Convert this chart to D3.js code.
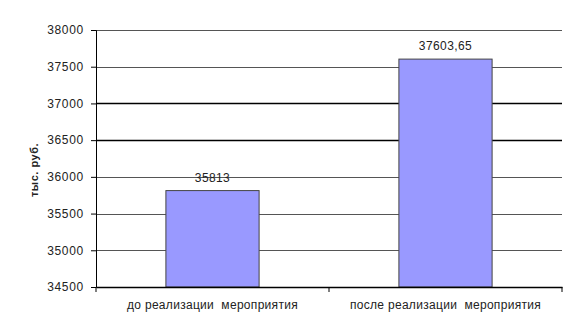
<!DOCTYPE html>
<html>
<head>
<meta charset="utf-8">
<script src="https://cdn.jsdelivr.net/npm/d3@7"></script>
<style>
  body { margin: 0; background: #fff; }
  text { font-family: "Liberation Sans", Arial, sans-serif; fill: #222; white-space: pre; }
</style>
</head>
<body>
<div id="chart"></div>
<script>
// data
const categories = ["до реализации  мероприятия", "после реализации  мероприятия"];
const values = [35813, 37603.65];
const valueLabels = ["35813", "37603,65"];
const yTicks = [34500, 35000, 35500, 36000, 36500, 37000, 37500, 38000];
const yTitle = "тыс. руб.";

const width = 581, height = 335;
const margin = {top: 30, right: 19, bottom: 48, left: 96};

const svg = d3.select("#chart").append("svg")
    .attr("width", width)
    .attr("height", height);

const x = d3.scaleBand()
    .domain(categories)
    .range([margin.left, width - margin.right])
    .paddingInner(0.6)
    .paddingOuter(0.3);

const y = d3.scaleLinear()
    .domain([34500, 38000])
    .range([height - margin.bottom, margin.top]);

// gridlines
svg.append("g")
    .selectAll("line")
    .data(yTicks.slice(1))
    .enter().append("line")
    .attr("x1", margin.left)
    .attr("x2", width - margin.right)
    .attr("y1", d => Math.round(y(d)) + 0.5)
    .attr("y2", d => Math.round(y(d)) + 0.5)
    .attr("stroke", d => (d === 37000 || d === 36500) ? "#000" : "#555")
    .attr("stroke-width", d => (d === 37000 || d === 36500) ? 1.6 : 1);

// bars
svg.selectAll(".bar")
    .data(values)
    .enter().append("rect")
    .attr("class", "bar")
    .attr("x", (d, i) => x(categories[i]))
    .attr("y", d => y(d))
    .attr("width", x.bandwidth())
    .attr("height", d => y(34500) - y(d))
    .attr("fill", "#9999ff")
    .attr("stroke", "#444")
    .attr("stroke-width", 1);

// value labels
svg.selectAll(".vlabel")
    .data(values)
    .enter().append("text")
    .attr("class", "vlabel")
    .attr("x", (d, i) => x(categories[i]) + x.bandwidth() / 2)
    .attr("y", d => y(d) - 9)
    .attr("text-anchor", "middle")
    .attr("font-size", 12)
    .attr("letter-spacing", 0.4)
    .text((d, i) => valueLabels[i]);

// y axis
const yAxis = svg.append("g")
    .attr("transform", `translate(${margin.left},0)`)
    .call(d3.axisLeft(y).tickValues(yTicks).tickSize(5).tickPadding(7).tickFormat(d3.format("d")));
yAxis.selectAll("text").attr("font-size", 12).attr("letter-spacing", 0.7).style("fill", "#222");
yAxis.selectAll("line").attr("stroke", "#000");
yAxis.select(".domain").attr("stroke", "#000");

// x axis
const xAxis = svg.append("g")
    .attr("transform", `translate(0,${y(34500)})`)
    .call(d3.axisBottom(x).tickSize(0).tickPadding(13));
xAxis.selectAll("text").attr("font-size", 12).attr("letter-spacing", 0.3).style("fill", "#222");
xAxis.select(".domain").attr("stroke", "#000").attr("stroke-width", 1.5);

// category separators
svg.append("g")
    .selectAll("line")
    .data([margin.left, (margin.left + width - margin.right) / 2, width - margin.right])
    .enter().append("line")
    .attr("x1", d => d).attr("x2", d => d)
    .attr("y1", y(34500)).attr("y2", y(34500) + 5)
    .attr("stroke", "#000");

// y title
svg.append("text")
    .attr("transform", "translate(38,170) rotate(-90)")
    .attr("text-anchor", "middle")
    .attr("font-size", 11)
    .attr("font-weight", "bold")
    .attr("letter-spacing", 0.5)
    .text(yTitle);
</script>
</body>
</html>
